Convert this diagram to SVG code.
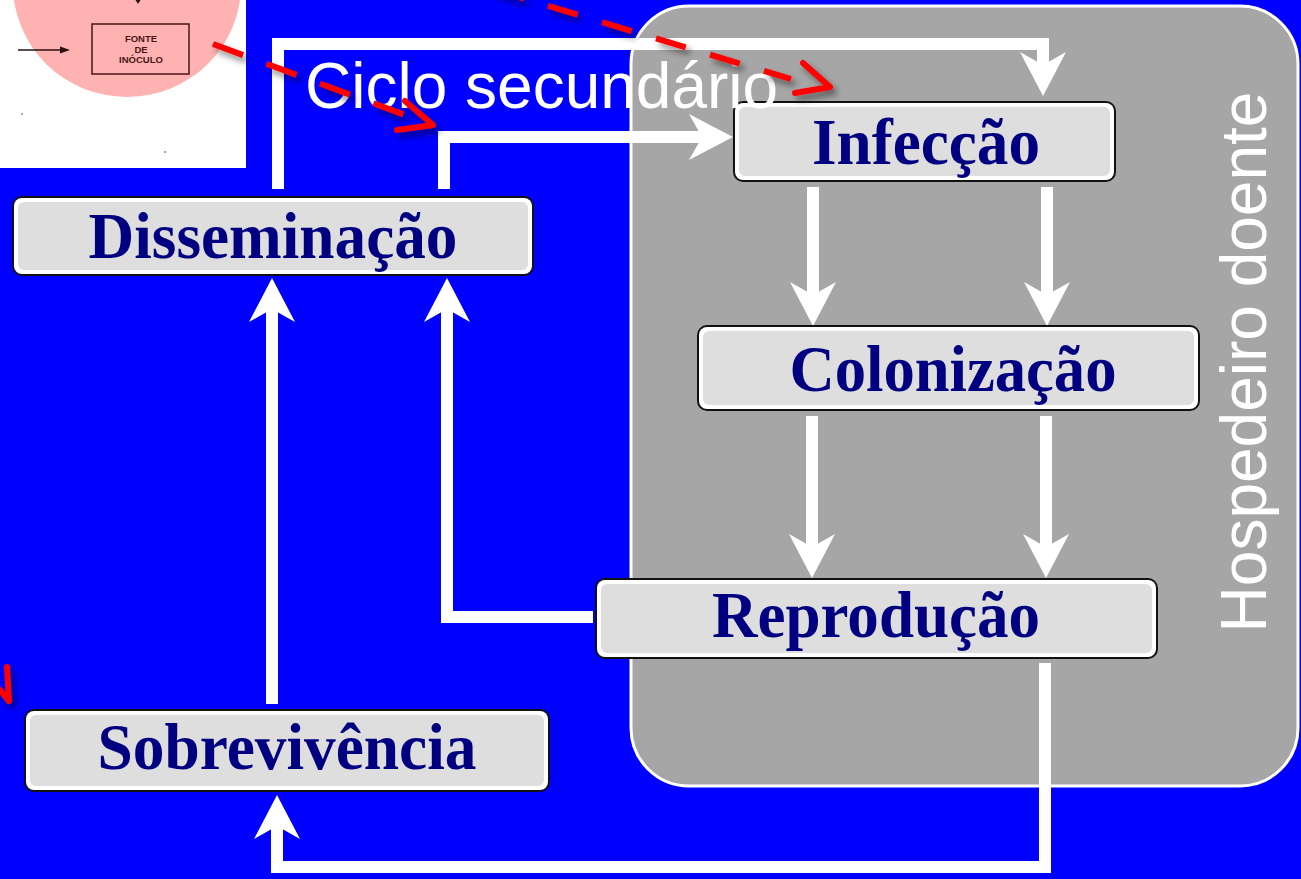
<svg xmlns="http://www.w3.org/2000/svg" width="1301" height="879" viewBox="0 0 1301 879">
  <defs>
    <style>
      .bx-o { fill: #111111; }
      .bx-w { fill: #FFFFFF; }
      .bx-i { fill: #DEDEDE; }
      .lbl { font-family: "Liberation Serif", "Times New Roman", serif; font-weight: bold; font-size: 66px; fill: #000080; text-anchor: middle; }
      .conn { fill: none; stroke: #FFFFFF; stroke-width: 12; stroke-linejoin: miter; stroke-linecap: butt; }
      .red { fill: none; stroke: #FF0000; stroke-width: 6; }
      .tiny { font-family: "Liberation Sans", Arial, sans-serif; font-weight: bold; font-size: 9.5px; fill: #4a1515; text-anchor: middle; }
    </style>
    <marker id="ah" markerUnits="userSpaceOnUse" viewBox="0 0 44 46" refX="13" refY="23" markerWidth="44" markerHeight="46" orient="auto">
      <path d="M44,23 L0,0 L13,23 L0,46 Z" fill="#FFFFFF"/>
    </marker>
    <filter id="sh" x="-20%" y="-50%" width="140%" height="200%">
      <feDropShadow dx="4" dy="5" stdDeviation="3" flood-color="#000000" flood-opacity="0.45"/>
    </filter>
  </defs>

  <!-- background -->
  <rect x="0" y="0" width="1301" height="879" fill="#0000FF"/>

  <!-- scanned inset -->
  <g id="inset">
    <rect x="0" y="0" width="246" height="168" fill="#FFFFFF"/>
    <ellipse cx="127" cy="-15" rx="114" ry="112" fill="#FFB2B2"/>
    <rect x="92" y="24" width="97" height="50" fill="none" stroke="#4a1515" stroke-width="1.5"/>
    <text class="tiny" x="141" y="42">FONTE</text>
    <text class="tiny" x="141" y="53">DE</text>
    <text class="tiny" x="141" y="63">INÓCULO</text>
    <line x1="18" y1="50" x2="64" y2="50" stroke="#2a1010" stroke-width="1.5"/>
    <path d="M70,50 L60,46.5 L60,53.5 Z" fill="#2a1010"/>
    <path d="M138,4 L135.5,0 L140.5,0 Z" fill="#2a1010"/>
    <circle cx="22" cy="114" r="0.8" fill="#333"/>
    <circle cx="165" cy="152" r="0.8" fill="#333"/>
  </g>

  <!-- host panel -->
  <g id="hospedeiro">
    <rect x="631" y="6" width="667" height="780" rx="58" ry="58" fill="#A6A6A6" stroke="#FFFFFF" stroke-width="3"/>
  </g>

  <!-- connectors -->
  <g id="connectors">
    <path class="conn" d="M278,189 V44 H1043 V65" marker-end="url(#ah)"/>
    <path class="conn" d="M444,189 V137 H702" marker-end="url(#ah)"/>
    <path class="conn" d="M813,187 V295" marker-end="url(#ah)"/>
    <path class="conn" d="M1047,187 V295" marker-end="url(#ah)"/>
    <path class="conn" d="M812,416 V547" marker-end="url(#ah)"/>
    <path class="conn" d="M1046,416 V547" marker-end="url(#ah)"/>
    <path class="conn" d="M593,617 H447 V309" marker-end="url(#ah)"/>
    <path class="conn" d="M272,704 V309" marker-end="url(#ah)"/>
    <path class="conn" d="M1045,663 V867 H277 V826" marker-end="url(#ah)"/>
  </g>

  <!-- nodes -->
  <g id="node-disseminacao">
    <rect class="bx-o" x="12" y="196" width="522" height="80" rx="10"/>
    <rect class="bx-w" x="14" y="198" width="518" height="76" rx="8"/>
    <rect class="bx-i" x="18" y="202" width="510" height="68" rx="6"/>
    <text class="lbl" x="273" y="258" textLength="369" lengthAdjust="spacingAndGlyphs">Disseminação</text>
  </g>
  <g id="node-infeccao">
    <rect class="bx-o" x="733" y="101" width="383" height="81" rx="10"/>
    <rect class="bx-w" x="735" y="103" width="379" height="77" rx="8"/>
    <rect class="bx-i" x="739" y="107" width="371" height="69" rx="6"/>
    <text class="lbl" x="926" y="164" textLength="228" lengthAdjust="spacingAndGlyphs">Infecção</text>
  </g>
  <g id="node-colonizacao">
    <rect class="bx-o" x="697" y="325" width="503" height="86" rx="10"/>
    <rect class="bx-w" x="699" y="327" width="499" height="82" rx="8"/>
    <rect class="bx-i" x="703" y="331" width="491" height="74" rx="6"/>
    <text class="lbl" x="953" y="391" textLength="327" lengthAdjust="spacingAndGlyphs">Colonização</text>
  </g>
  <g id="node-reproducao">
    <rect class="bx-o" x="595" y="578" width="563" height="81" rx="10"/>
    <rect class="bx-w" x="597" y="580" width="559" height="77" rx="8"/>
    <rect class="bx-i" x="601" y="584" width="551" height="69" rx="6"/>
    <text class="lbl" x="876" y="637" textLength="328" lengthAdjust="spacingAndGlyphs">Reprodução</text>
  </g>
  <g id="node-sobrevivencia">
    <rect class="bx-o" x="24" y="709" width="526" height="83" rx="10"/>
    <rect class="bx-w" x="26" y="711" width="522" height="79" rx="8"/>
    <rect class="bx-i" x="30" y="715" width="514" height="71" rx="6"/>
    <text class="lbl" x="287" y="769" textLength="379" lengthAdjust="spacingAndGlyphs">Sobrevivência</text>
  </g>

  <!-- titles -->
  <text id="ciclo" x="305" y="108" font-family="Liberation Sans, Arial, sans-serif" font-size="64" fill="#FFFFFF">Ciclo secundário</text>
  <text id="hosp-label" transform="translate(1266,362) rotate(-90)" text-anchor="middle" font-family="Liberation Sans, Arial, sans-serif" font-size="64" fill="#FFFFFF">Hospedeiro doente</text>

  <!-- red dashed arrows -->
  <g id="red-arrows" filter="url(#sh)">
    <line class="red" x1="213" y1="44" x2="405" y2="115" stroke-dasharray="32 25"/>
    <polyline class="red" points="405,101 433,125 397,130" stroke-linejoin="round" stroke-linecap="round"/>
    <line class="red" x1="386" y1="-43" x2="791" y2="79" stroke-dasharray="31 25.4"/>
    <polyline class="red" points="803,63 830,87 795,93" stroke-linejoin="round" stroke-linecap="round"/>
    <path class="red" d="M7,667 L9,701 M0,690 L9,701" stroke-linecap="round"/>
  </g>
</svg>
